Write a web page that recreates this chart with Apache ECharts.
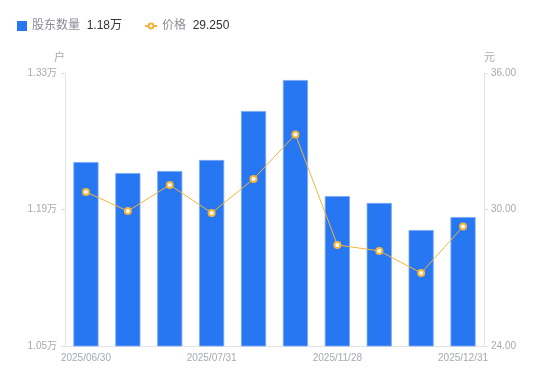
<!DOCTYPE html>
<html><head><meta charset="utf-8">
<script src="https://cdn.jsdelivr.net/npm/echarts@6/dist/echarts.min.js"></script>
<style>html,body{margin:0;padding:0;background:#fff}#c{width:550px;height:381px}</style>
</head><body><div id="c"></div>
<script>
var categories = ['2025/06/30','2025/07/10','2025/07/20','2025/07/31','2025/08/29','2025/09/30','2025/11/28','2025/12/10','2025/12/19','2025/12/31'];
var holders = [12387, 12274, 12295, 12408, 12910, 13228, 12038, 11967, 11690, 11823];
var prices = [30.77, 29.93, 31.08, 29.85, 31.34, 33.30, 28.44, 28.18, 27.21, 29.25];
var leftTicks = [10500, 13300, 1400];
var rightTicks = [24, 36, 6];
var legendValues = {'股东数量': '1.18万', '价格': '29.250'};

var chart = echarts.init(document.getElementById('c'), null, {renderer: 'canvas'});
var gray = '#a6a9b2';
var font = '"Liberation Sans", Arial, "Noto Sans CJK SC", sans-serif';
function legendFmt(n) { return '{a|' + n + '}  {b|' + legendValues[n] + '}'; }
var legendText = {
  fontFamily: font,
  rich: {
    a: {color: '#8a8d96', fontSize: 12, fontFamily: font},
    b: {color: '#333', fontSize: 12, fontFamily: font}
  }
};
chart.setOption({
  animation: false,
  textStyle: {fontFamily: font},
  legend: [{
    left: 12, top: 15,
    itemWidth: 10, itemHeight: 10,
    data: [{name: '股东数量', icon: 'rect', itemStyle: {borderWidth: 0}}],
    formatter: legendFmt, textStyle: legendText
  }, {
    left: 139, top: 15,
    itemWidth: 12, itemHeight: 6,
    data: [{name: '价格'}],
    formatter: legendFmt, textStyle: legendText
  }],
  grid: {left: 65, right: 66, top: 73, bottom: 35},
  xAxis: {
    type: 'category', data: categories,
    axisLine: {lineStyle: {color: '#e3e3e6'}},
    axisTick: {show: false},
    axisLabel: {color: gray, fontSize: 10, interval: 2, margin: 7, fontFamily: font}
  },
  yAxis: [{
    type: 'value', name: '户', nameGap: 10,
    nameTextStyle: {color: gray, fontSize: 11, align: 'right', fontFamily: font},
    min: leftTicks[0], max: leftTicks[1], interval: leftTicks[2],
    axisLine: {show: true, lineStyle: {color: '#e3e3e6'}},
    axisTick: {show: true, length: 4, lineStyle: {color: '#e3e3e6'}},
    splitLine: {show: false},
    axisLabel: {color: gray, fontSize: 10, margin: 8, fontFamily: font,
      formatter: function (v) { return (v / 10000).toFixed(2) + '万'; }}
  }, {
    type: 'value', name: '元', nameGap: 10,
    nameTextStyle: {color: gray, fontSize: 11, align: 'left', fontFamily: font},
    min: rightTicks[0], max: rightTicks[1], interval: rightTicks[2],
    axisLine: {show: true, lineStyle: {color: '#e3e3e6'}},
    axisTick: {show: true, length: 4, lineStyle: {color: '#e3e3e6'}},
    splitLine: {show: false},
    axisLabel: {color: gray, fontSize: 10, margin: 7, fontFamily: font,
      formatter: function (v) { return v.toFixed(2); }}
  }],
  series: [{
    name: '股东数量', type: 'bar', yAxisIndex: 0, data: holders,
    barWidth: '60%',
    itemStyle: {color: '#2777f2', borderColor: '#7eaaf5', borderWidth: 0.8}
  }, {
    name: '价格', type: 'line', yAxisIndex: 1, data: prices,
    symbol: 'emptyCircle', symbolSize: 6,
    lineStyle: {color: '#f5b43a', width: 1},
    itemStyle: {color: '#f5b43a', borderColor: '#f5b43a', borderWidth: 2.2}
  }]
});
</script></body></html>
